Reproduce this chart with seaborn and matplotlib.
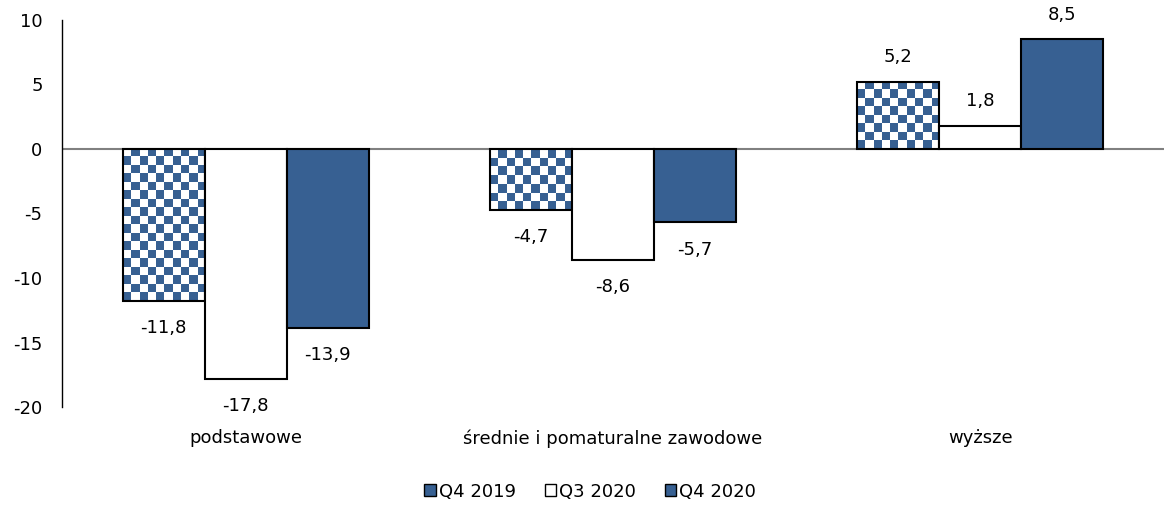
import numpy as np
import pandas as pd
import seaborn as sns
import matplotlib.pyplot as plt
from matplotlib.colors import ListedColormap
from matplotlib.patches import Patch

sns.set_theme(style="white")
plt.rcParams["font.family"] = ["DejaVu Sans"]
plt.rcParams["text.color"] = "black"
plt.rcParams["xtick.color"] = "black"
plt.rcParams["ytick.color"] = "black"

categories = ["podstawowe", "średnie i pomaturalne zawodowe", "wyższe"]
series = ["Q4 2019", "Q3 2020", "Q4 2020"]
q4_2019 = [-11.8, -4.7, 5.2]
q3_2020 = [-17.8, -8.6, 1.8]
q4_2020 = [-13.9, -5.7, 8.5]
yticks = [-20, -15, -10, -5, 0, 5, 10]

blue = "#376092"
fs = 13

df = pd.DataFrame({
    "kategoria": categories * 3,
    "okres": [s for s in series for _ in categories],
    "wartosc": q4_2019 + q3_2020 + q4_2020,
})

fig = plt.figure(figsize=(11.64, 5.07), dpi=100)
ax = fig.add_axes([0.0533, 0.197, 0.9467, 0.764])

sns.barplot(data=df, x="kategoria", y="wartosc", hue="okres", order=categories,
            hue_order=series, palette=[blue, "white", blue], width=0.67,
            saturation=1, edgecolor="black", linewidth=1.5, legend=False, ax=ax)

ax.set_xlim(-0.5, 2.5)
ax.set_ylim(-20, 10)
ax.set_yticks(yticks)
ax.set_yticklabels([str(t) for t in yticks], fontsize=fs)
ax.axhline(0, color="#808080", lw=1.5, zorder=1)
for s in ["top", "right", "bottom"]:
    ax.spines[s].set_visible(False)
ax.spines["left"].set_color("black")
ax.spines["left"].set_linewidth(1)
ax.tick_params(axis="y", length=0, pad=14)
ax.tick_params(axis="x", length=0, pad=16, labelsize=fs)
ax.set_xlabel("")
ax.set_ylabel("")

# checkered fill for Q4 2019
cmap = ListedColormap(["white", blue])
cell = 8.4
for p in ax.containers[0].patches:
    x0, y0 = p.get_x(), p.get_y()
    x1, y1 = x0 + p.get_width(), y0 + p.get_height()
    (px0, py0), (px1, py1) = ax.transData.transform([(x0, y0), (x1, y1)])
    nx = max(1, int(round(abs(px1 - px0) / cell)))
    ny = max(1, int(round(abs(py1 - py0) / cell)))
    grid = (np.add.outer(np.arange(ny), np.arange(nx)) % 2)
    im = ax.imshow(grid, cmap=cmap, extent=[x0, x1, min(y0, y1), max(y0, y1)],
                   aspect="auto", interpolation="nearest", zorder=2)
    im.set_clip_path(p)
    p.set_facecolor("none")
    p.set_zorder(3)
for c in ax.containers[1:]:
    for p in c.patches:
        p.set_zorder(3)

ax.set_xlim(-0.5, 2.5)
ax.set_ylim(-20, 10)

for c in ax.containers:
    for p, v in zip(c.patches, c.datavalues):
        xc = p.get_x() + p.get_width() / 2
        off = 11 if v >= 0 else -13
        ax.annotate(f"{v:.1f}".replace(".", ","), (xc, v), xytext=(0, off),
                    textcoords="offset points", ha="center",
                    va="bottom" if v >= 0 else "top", fontsize=fs, color="black")

handles = [Patch(facecolor=blue, edgecolor="black", lw=1),
           Patch(facecolor="white", edgecolor="black", lw=1),
           Patch(facecolor=blue, edgecolor="black", lw=1)]
fig.legend(handles, series, loc="center", bbox_to_anchor=(0.507, 0.03), ncol=3,
           frameon=False, fontsize=fs, handlelength=0.65, handleheight=0.65,
           handletextpad=0.15, columnspacing=1.6)

fig.savefig("out.png", dpi=100)
